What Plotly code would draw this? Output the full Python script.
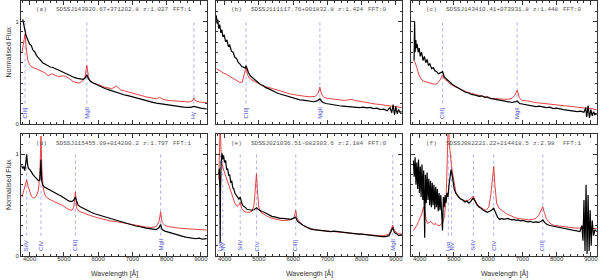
import plotly.graph_objects as go

# ---------------- metadata ----------------
panel_tags = ["(a)", "(b)", "(c)", "(d)", "(e)", "(f)"]
object_names = ["SDSSJ143920.67+371202.8", "SDSSJ111117.76+001832.8", "SDSSJ143410.41+073931.8",
                "SDSSJ115455.09+014200.2", "SDSSJ021036.51-082303.6", "SDSSJ082221.22+214418.5"]
redshifts = ["1.027", "1.424", "1.448", "1.797", "2.184", "2.98"]
fft_flags = ["1", "0", "0", "1", "0", "1"]

line_rest = {"Lyα": 1216, "NV": 1240, "SiIV": 1400, "CIV": 1549, "CIII]": 1909, "MgII": 2798, "Hγ": 4340}
panel_lines = [["CIII]", "MgII", "Hγ"], ["CIII]", "MgII"], ["CIII]", "MgII"],
               ["SiIV", "CIV", "CIII]", "MgII"], ["Lyα", "NV", "SiIV", "CIV", "CIII]", "MgII"],
               ["Lyα", "NV", "SiIV", "CIV", "CIII]"]]

# ---------------- panel (a) ----------------
a_obs_wl = [3800, 3830, 3860, 3900, 3950, 4000, 4050, 4100, 4150, 4200, 4260, 4320, 4390, 4450, 4520, 4600, 4680,
            4760, 4840, 4920, 5000, 5080, 5160, 5240, 5320, 5400, 5480, 5560, 5620, 5672, 5720, 5780, 5860, 5940,
            6020, 6100, 6200, 6300, 6400, 6500, 6600, 6700, 6800, 6900, 7000, 7100, 7200, 7300, 7400, 7500, 7600,
            7700, 7800, 7900, 8000, 8100, 8200, 8300, 8400, 8500, 8600, 8700, 8800, 8900, 9000, 9100, 9170]
a_obs_fl = [1.02, 0.97, 0.92, 0.86, 0.82, 0.78, 0.765, 0.72, 0.705, 0.67, 0.645, 0.62, 0.595, 0.585, 0.572, 0.556,
            0.551, 0.536, 0.527, 0.515, 0.502, 0.491, 0.476, 0.466, 0.452, 0.446, 0.44, 0.436, 0.446, 0.48, 0.44,
            0.416, 0.40, 0.386, 0.376, 0.36, 0.346, 0.336, 0.325, 0.311, 0.301, 0.29, 0.281, 0.275, 0.265, 0.255,
            0.246, 0.235, 0.226, 0.218, 0.211, 0.203, 0.198, 0.19, 0.186, 0.18, 0.176, 0.172, 0.168, 0.165, 0.163,
            0.162, 0.172, 0.16, 0.155, 0.15, 0.148]
a_tpl_wl = [3780, 3830, 3869, 3900, 3950, 4000, 4050, 4150, 4250, 4350, 4450, 4550, 4650, 4750, 4850, 4950, 5050,
            5150, 5250, 5350, 5450, 5550, 5620, 5672, 5720, 5780, 5880, 5980, 6080, 6180, 6300, 6400, 6540, 6650,
            6800, 6950, 7100, 7250, 7400, 7550, 7700, 7800, 7900, 8050, 8200, 8350, 8500, 8650, 8750, 8800, 8850,
            8950, 9100, 9170]
a_tpl_fl = [0.70, 0.80, 0.88, 0.75, 0.62, 0.58, 0.56, 0.545, 0.53, 0.515, 0.50, 0.47, 0.49, 0.475, 0.46, 0.47,
            0.465, 0.445, 0.42, 0.405, 0.40, 0.42, 0.46, 0.57, 0.46, 0.41, 0.40, 0.39, 0.375, 0.36, 0.35, 0.345,
            0.37, 0.335, 0.32, 0.305, 0.29, 0.275, 0.265, 0.255, 0.245, 0.26, 0.24, 0.23, 0.225, 0.22, 0.218,
            0.215, 0.225, 0.255, 0.225, 0.215, 0.21, 0.21]

# ---------------- panel (b) ----------------
b_obs_wl = [3760, 3780, 3800, 3830, 3860, 3890, 3920, 3950, 3990, 4030, 4070, 4110, 4150, 4200, 4250, 4300, 4350,
            4400, 4450, 4500, 4550, 4600, 4627, 4660, 4700, 4750, 4800, 4860, 4920, 4980, 5050, 5120, 5200, 5280,
            5360, 5440, 5520, 5600, 5700, 5800, 5900, 6000, 6100, 6200, 6300, 6400, 6500, 6600, 6700, 6783, 6850,
            6950, 7050, 7150, 7250, 7350, 7450, 7550, 7650, 7750, 7850, 7950, 8050, 8150, 8250, 8350, 8450, 8550,
            8650, 8750, 8830, 8880, 8920, 8960, 9000, 9040, 9080, 9120, 9170]
b_obs_fl = [1.06, 0.98, 1.02, 0.93, 0.97, 0.89, 0.92, 0.85, 0.87, 0.80, 0.82, 0.76, 0.77, 0.71, 0.70, 0.65, 0.64,
            0.60, 0.585, 0.56, 0.555, 0.545, 0.57, 0.53, 0.50, 0.47, 0.455, 0.44, 0.415, 0.405, 0.385, 0.375, 0.355,
            0.345, 0.33, 0.315, 0.305, 0.295, 0.285, 0.27, 0.26, 0.255, 0.245, 0.235, 0.232, 0.225, 0.22, 0.217,
            0.225, 0.245, 0.215, 0.20, 0.195, 0.188, 0.182, 0.178, 0.175, 0.172, 0.168, 0.165, 0.168, 0.16, 0.165,
            0.158, 0.162, 0.15, 0.155, 0.14, 0.145, 0.13, 0.16, 0.11, 0.19, 0.09, 0.17, 0.10, 0.14, 0.115, 0.12]
b_tpl_wl = [3770, 3850, 3950, 4050, 4150, 4250, 4350, 4450, 4520, 4580, 4627, 4670, 4720, 4800, 4900, 5000, 5100,
            5200, 5300, 5400, 5500, 5600, 5750, 5900, 6050, 6200, 6350, 6500, 6650, 6730, 6783, 6830, 6900, 7000,
            7100, 7200, 7300, 7400, 7500, 7600, 7700, 7800, 7950, 8100, 8250, 8400, 8550, 8700, 8850, 9000, 9170]
b_tpl_fl = [0.54, 0.52, 0.50, 0.485, 0.465, 0.45, 0.43, 0.405, 0.41, 0.48, 0.56, 0.48, 0.45, 0.43, 0.41, 0.39,
            0.375, 0.365, 0.355, 0.34, 0.33, 0.32, 0.31, 0.295, 0.285, 0.275, 0.27, 0.265, 0.27, 0.30, 0.36, 0.29,
            0.26, 0.25, 0.245, 0.24, 0.235, 0.23, 0.23, 0.235, 0.24, 0.23, 0.22, 0.21, 0.205, 0.195, 0.19, 0.18,
            0.175, 0.17, 0.16]

# ---------------- panel (c) ----------------
c_obs_wl = [3840, 3855, 3870, 3890, 3910, 3930, 3960, 3990, 4020, 4060, 4100, 4140, 4180, 4220, 4260, 4300, 4350,
            4400, 4450, 4500, 4550, 4620, 4673, 4720, 4780, 4840, 4900, 4960, 5030, 5100, 5180, 5260, 5340, 5420,
            5500, 5580, 5660, 5740, 5820, 5900, 5980, 6060, 6140, 6220, 6300, 6400, 6500, 6600, 6700, 6780, 6850,
            6920, 7000, 7100, 7200, 7300, 7400, 7500, 7600, 7700, 7800, 7900, 8000, 8100, 8200, 8300, 8400, 8500,
            8600, 8700, 8800, 8850, 8880, 8920, 8960, 9000, 9040, 9080, 9120, 9170]
c_obs_fl = [0.62, 1.0, 0.70, 0.82, 0.74, 0.78, 0.70, 0.74, 0.66, 0.70, 0.62, 0.66, 0.60, 0.63, 0.57, 0.59, 0.54,
            0.55, 0.52, 0.51, 0.49, 0.50, 0.51, 0.46, 0.44, 0.42, 0.40, 0.385, 0.37, 0.355, 0.34, 0.325, 0.31,
            0.305, 0.29, 0.285, 0.275, 0.27, 0.275, 0.26, 0.265, 0.25, 0.245, 0.24, 0.235, 0.225, 0.22, 0.215,
            0.21, 0.215, 0.225, 0.20, 0.195, 0.19, 0.18, 0.175, 0.17, 0.175, 0.165, 0.16, 0.165, 0.15, 0.155, 0.145,
            0.14, 0.135, 0.13, 0.125, 0.12, 0.125, 0.115, 0.16, 0.07, 0.18, 0.06, 0.14, 0.08, 0.12, 0.09, 0.10]
c_tpl_wl = [3840, 3870, 3920, 3980, 4040, 4100, 4200, 4300, 4400, 4500, 4600, 4673, 4720, 4800, 4900, 5000, 5100,
            5200, 5300, 5400, 5500, 5650, 5800, 5950, 6100, 6250, 6400, 6550, 6700, 6780, 6850, 6910, 6980, 7050,
            7150, 7250, 7350, 7500, 7650, 7800, 7950, 8100, 8250, 8400, 8550, 8700, 8850, 9000, 9170]
c_tpl_fl = [0.62, 0.60, 0.55, 0.48, 0.44, 0.42, 0.41, 0.40, 0.39, 0.39, 0.43, 0.48, 0.44, 0.42, 0.39, 0.37, 0.355,
            0.34, 0.32, 0.31, 0.30, 0.285, 0.27, 0.26, 0.25, 0.245, 0.24, 0.24, 0.25, 0.28, 0.33, 0.26, 0.23,
            0.225, 0.225, 0.22, 0.21, 0.205, 0.20, 0.195, 0.19, 0.185, 0.18, 0.175, 0.17, 0.165, 0.16, 0.15, 0.14]

# ---------------- panel (d) ----------------
d_obs_wl = [3770, 3800, 3830, 3860, 3890, 3916, 3940, 3970, 4010, 4050, 4100, 4150, 4210, 4260, 4300, 4320, 4333,
            4350, 4380, 4420, 4470, 4520, 4570, 4620, 4680, 4740, 4800, 4860, 4920, 4980, 5040, 5100, 5160, 5220,
            5280, 5320, 5339, 5370, 5420, 5480, 5560, 5640, 5720, 5800, 5900, 6000, 6100, 6200, 6300, 6400, 6500,
            6600, 6700, 6800, 6900, 7000, 7100, 7200, 7300, 7400, 7500, 7600, 7700, 7780, 7826, 7870, 7950, 8050,
            8150, 8250, 8350, 8450, 8550, 8650, 8750, 8850, 8950, 9050, 9170]
d_obs_fl = [0.89, 0.86, 0.88, 0.84, 0.92, 1.00, 0.90, 0.86, 0.85, 0.82, 0.80, 0.78, 0.76, 0.74, 0.75, 0.90, 0.95,
            0.75, 0.70, 0.68, 0.67, 0.66, 0.65, 0.645, 0.63, 0.62, 0.61, 0.60, 0.59, 0.575, 0.56, 0.55, 0.54, 0.535,
            0.545, 0.57, 0.58, 0.54, 0.50, 0.485, 0.47, 0.455, 0.44, 0.43, 0.415, 0.405, 0.395, 0.38, 0.37, 0.36,
            0.355, 0.345, 0.335, 0.325, 0.315, 0.305, 0.295, 0.29, 0.28, 0.275, 0.27, 0.265, 0.26, 0.28, 0.31,
            0.26, 0.245, 0.235, 0.225, 0.21, 0.20, 0.19, 0.185, 0.18, 0.175, 0.17, 0.175, 0.165, 0.17]
d_tpl_wl = [3780, 3820, 3870, 3916, 3960, 4010, 4060, 4110, 4160, 4210, 4260, 4300, 4333, 4360, 4400, 4450, 4500,
            4600, 4700, 4800, 4900, 5000, 5080, 5160, 5240, 5290, 5339, 5380, 5450, 5550, 5650, 5760, 5900, 6050,
            6200, 6350, 6500, 6650, 6800, 6950, 7100, 7250, 7400, 7550, 7700, 7780, 7826, 7870, 7950, 8050, 8200,
            8350, 8500, 8650, 8800, 8950, 9170]
d_tpl_fl = [0.58, 0.63, 0.70, 0.75, 0.68, 0.62, 0.585, 0.57, 0.575, 0.60, 0.65, 0.80, 1.18, 0.85, 0.66, 0.60,
            0.575, 0.555, 0.54, 0.52, 0.505, 0.49, 0.47, 0.455, 0.45, 0.48, 0.63, 0.47, 0.44, 0.425, 0.41, 0.40,
            0.385, 0.37, 0.355, 0.345, 0.34, 0.33, 0.32, 0.31, 0.30, 0.29, 0.285, 0.28, 0.29, 0.34, 0.435, 0.33,
            0.30, 0.29, 0.28, 0.275, 0.27, 0.265, 0.26, 0.26, 0.255]

# ---------------- panel (e) ----------------
e_obs_wl = [3830, 3850, 3865, 3872, 3880, 3900, 3925, 3945, 3970, 4000, 4030, 4060, 4090, 4120, 4150, 4180, 4210,
            4240, 4270, 4300, 4340, 4380, 4420, 4458, 4500, 4550, 4600, 4650, 4700, 4750, 4800, 4860, 4932, 4980,
            5040, 5100, 5160, 5220, 5300, 5380, 5460, 5540, 5620, 5700, 5780, 5860, 5940, 6000, 6078, 6130, 6200,
            6280, 6360, 6440, 6520, 6600, 6700, 6800, 6900, 7000, 7100, 7200, 7300, 7400, 7500, 7600, 7700, 7800,
            7900, 8000, 8100, 8200, 8300, 8400, 8500, 8600, 8700, 8800, 8860, 8909, 8960, 9020, 9080, 9170]
e_obs_fl = [0.80, 0.86, 0.60, 0.13, 0.60, 0.92, 1.01, 0.95, 0.99, 0.92, 0.94, 0.85, 0.86, 0.79, 0.80, 0.72, 0.74,
            0.67, 0.66, 0.62, 0.60, 0.57, 0.56, 0.58, 0.52, 0.49, 0.48, 0.46, 0.455, 0.45, 0.45, 0.455, 0.475, 0.46,
            0.445, 0.435, 0.43, 0.42, 0.405, 0.39, 0.385, 0.375, 0.37, 0.37, 0.365, 0.365, 0.36, 0.37, 0.38, 0.34,
            0.32, 0.305, 0.29, 0.275, 0.265, 0.26, 0.255, 0.25, 0.245, 0.24, 0.24, 0.245, 0.24, 0.235, 0.23, 0.23,
            0.225, 0.22, 0.215, 0.215, 0.21, 0.21, 0.205, 0.20, 0.195, 0.19, 0.19, 0.20, 0.24, 0.28, 0.23, 0.22,
            0.20, 0.21]
e_tpl_wl = [3830, 3850, 3872, 3895, 3920, 3960, 4000, 4060, 4120, 4180, 4240, 4300, 4360, 4410, 4458, 4500, 4560,
            4640, 4720, 4800, 4860, 4900, 4932, 4965, 5000, 5060, 5150, 5250, 5350, 5450, 5550, 5650, 5750, 5850,
            5950, 6030, 6078, 6120, 6200, 6300, 6400, 6500, 6600, 6700, 6850, 7000, 7150, 7300, 7450, 7600, 7750,
            7900, 8050, 8200, 8350, 8500, 8650, 8800, 8860, 8909, 8960, 9050, 9170]
e_tpl_fl = [0.75, 0.95, 1.30, 1.05, 0.92, 0.86, 0.82, 0.75, 0.68, 0.62, 0.57, 0.52, 0.49, 0.50, 0.53, 0.47, 0.44,
            0.43, 0.43, 0.44, 0.50, 0.65, 0.81, 0.62, 0.48, 0.43, 0.41, 0.39, 0.375, 0.365, 0.355, 0.35, 0.35,
            0.35, 0.36, 0.38, 0.45, 0.37, 0.33, 0.30, 0.28, 0.27, 0.26, 0.255, 0.25, 0.245, 0.245, 0.24, 0.235,
            0.23, 0.225, 0.22, 0.215, 0.21, 0.205, 0.20, 0.20, 0.215, 0.26, 0.305, 0.25, 0.22, 0.215]

# ---------------- panel (f) ----------------
f_obs_wl = [3820, 3845, 3870, 3895, 3920, 3945, 3970, 3995, 4020, 4045, 4070, 4095, 4120, 4150, 4170, 4195, 4220,
            4245, 4270, 4295, 4320, 4345, 4370, 4395, 4420, 4445, 4470, 4495, 4520, 4545, 4570, 4595, 4620, 4645,
            4670, 4695, 4720, 4745, 4770, 4800, 4830, 4860, 4890, 4920, 4950, 4980, 5010, 5050, 5100, 5150, 5200,
            5260, 5320, 5380, 5440, 5500, 5560, 5620, 5680, 5740, 5800, 5860, 5920, 5980, 6040, 6100, 6165, 6220,
            6280, 6340, 6400, 6460, 6520, 6580, 6640, 6700, 6760, 6820, 6880, 6940, 7000, 7080, 7160, 7240, 7320,
            7400, 7480, 7560, 7600, 7650, 7720, 7800, 7880, 7960, 8040, 8120, 8200, 8280, 8360, 8440, 8520, 8600,
            8680, 8740, 8770, 8800, 8830, 8860, 8890, 8920, 8950, 8980, 9010, 9040, 9080, 9120, 9170]
f_obs_fl = [0.94, 0.78, 0.97, 0.70, 0.92, 0.66, 0.95, 0.62, 0.88, 0.58, 0.90, 0.55, 0.84, 0.18, 0.80, 0.52, 0.82,
            0.55, 0.76, 0.50, 0.74, 0.48, 0.72, 0.50, 0.70, 0.46, 0.68, 0.48, 0.66, 0.44, 0.62, 0.45, 0.60, 0.44,
            0.25, 0.58, 0.48, 0.60, 0.52, 0.62, 0.58, 0.70, 0.78, 0.85, 0.80, 0.70, 0.66, 0.62, 0.60, 0.58, 0.56,
            0.55, 0.53, 0.54, 0.52, 0.54, 0.57, 0.54, 0.50, 0.48, 0.47, 0.45, 0.44, 0.43, 0.44, 0.45, 0.47, 0.42,
            0.38, 0.36, 0.37, 0.36, 0.365, 0.37, 0.36, 0.355, 0.36, 0.35, 0.355, 0.345, 0.35, 0.34, 0.335, 0.34,
            0.33, 0.335, 0.33, 0.345, 0.355, 0.33, 0.31, 0.30, 0.295, 0.29, 0.285, 0.28, 0.275, 0.27, 0.265, 0.26,
            0.255, 0.25, 0.24, 0.30, 0.15, 0.55, 0.05, 0.70, 0.02, 0.60, 0.05, 0.45, 0.10, 0.35, 0.20, 0.26, 0.24]
f_tpl_wl = [3820, 3870, 3920, 3970, 4020, 4070, 4115, 4150, 4190, 4230, 4280, 4330, 4380, 4430, 4480, 4530, 4580,
            4630, 4680, 4730, 4780, 4820, 4840, 4870, 4900, 4935, 4970, 5010, 5060, 5120, 5200, 5280, 5360, 5440,
            5520, 5572, 5620, 5700, 5780, 5860, 5940, 6020, 6080, 6130, 6165, 6200, 6250, 6320, 6400, 6480, 6560,
            6640, 6720, 6800, 6880, 6960, 7040, 7120, 7200, 7300, 7400, 7480, 7560, 7598, 7640, 7700, 7780, 7860,
            7950, 8050, 8150, 8250, 8350, 8450, 8550, 8650, 8750, 8850, 8950, 9050, 9170]
f_tpl_fl = [0.25, 0.27, 0.30, 0.34, 0.38, 0.42, 0.48, 0.45, 0.36, 0.32, 0.33, 0.34, 0.32, 0.31, 0.32, 0.30, 0.30,
            0.31, 0.33, 0.40, 0.60, 1.0, 1.35, 1.10, 0.95, 0.88, 0.80, 0.70, 0.63, 0.58, 0.56, 0.55, 0.54, 0.55,
            0.57, 0.59, 0.55, 0.50, 0.48, 0.46, 0.45, 0.48, 0.60, 0.80, 0.88, 0.70, 0.52, 0.47, 0.45, 0.43, 0.41,
            0.40, 0.385, 0.375, 0.37, 0.365, 0.36, 0.355, 0.355, 0.36, 0.37, 0.40, 0.46, 0.485, 0.43, 0.37, 0.33,
            0.31, 0.30, 0.295, 0.29, 0.285, 0.28, 0.28, 0.275, 0.275, 0.275, 0.275, 0.275, 0.27, 0.27]

obs_wl = [a_obs_wl, b_obs_wl, c_obs_wl, d_obs_wl, e_obs_wl, f_obs_wl]
obs_fl = [a_obs_fl, b_obs_fl, c_obs_fl, d_obs_fl, e_obs_fl, f_obs_fl]
tpl_wl = [a_tpl_wl, b_tpl_wl, c_tpl_wl, d_tpl_wl, e_tpl_wl, f_tpl_wl]
tpl_fl = [a_tpl_fl, b_tpl_fl, c_tpl_fl, d_tpl_fl, e_tpl_fl, f_tpl_fl]

# ---------------- layout geometry (pixels) ----------------
W, H = 600, 280
col_px = [(21, 207), (216, 402), (411, 597)]
row_px = [(1, 124), (134, 256)]
x_range = [3750, 9180]
y_range = [0, 1.2]

fig = go.Figure()
layout = dict(width=W, height=H, margin=dict(l=0, r=0, t=0, b=0), paper_bgcolor="white",
              plot_bgcolor="white", showlegend=False)
annotations = []
shapes = []
tick_font = dict(family="Liberation Sans, Arial, sans-serif", size=6, color="#333")

for i in range(6):
    r, c = divmod(i, 3)
    sfx = "" if i == 0 else str(i + 1)
    xa, ya = "x" + sfx, "y" + sfx
    x0, x1 = col_px[c]
    y0, y1 = row_px[r]
    layout["xaxis" + sfx] = dict(
        domain=[x0 / W, x1 / W], range=x_range, anchor=ya, tickmode="linear", tick0=0, dtick=1000,
        ticks="inside", ticklen=4, tickcolor="#333", showline=True, linecolor="#333", linewidth=1,
        mirror="ticks", showgrid=False, zeroline=False, showticklabels=(r == 1), tickfont=tick_font,
        ticklabelstandoff=-3,
        minor=dict(tick0=0, dtick=200, ticks="inside", ticklen=2, tickcolor="#333", showgrid=False),
        automargin=False)
    layout["yaxis" + sfx] = dict(
        domain=[1 - y1 / H, 1 - y0 / H], range=y_range, anchor=xa, tickmode="linear", tick0=0, dtick=1,
        ticks="inside", ticklen=4, tickcolor="#333", showline=True, linecolor="#333", linewidth=1,
        mirror="ticks", showgrid=False, zeroline=False, showticklabels=(c == 0), tickfont=tick_font,
        minor=dict(tick0=0, dtick=0.1, ticks="inside", ticklen=2, tickcolor="#333", showgrid=False),
        automargin=False)

    fig.add_trace(go.Scatter(x=tpl_wl[i], y=tpl_fl[i], mode="lines", xaxis=xa, yaxis=ya,
                             line=dict(color="#e0302f", width=0.9), hoverinfo="skip"))
    fig.add_trace(go.Scatter(x=obs_wl[i], y=obs_fl[i], mode="lines", xaxis=xa, yaxis=ya,
                             line=dict(color="black", width=1.2), hoverinfo="skip"))

    zval = float(redshifts[i])
    for name in panel_lines[i]:
        lam = line_rest[name] * (1 + zval)
        shapes.append(dict(type="line", xref=xa, yref=ya, x0=lam, x1=lam, y0=0.2, y1=1.0,
                           line=dict(color="#9a9ae6", width=0.8, dash="dot"), layer="below"))
        annotations.append(dict(xref=xa, yref=ya, x=lam, y=0.03, text=name, textangle=-90,
                                showarrow=False, xanchor="center", yanchor="bottom",
                                font=dict(family="Liberation Sans, Arial, sans-serif", size=6, color="#4a4ad0")))

    # panel title pieces
    title_font = dict(family="Liberation Mono, DejaVu Sans Mono, monospace", size=6, color="#555")
    dom = (xa + " domain", ya + " domain")
    for txt, off in [(panel_tags[i], 13), (object_names[i], 33), ("z:" + redshifts[i], 120), ("FFT:" + fft_flags[i], 150)]:
        annotations.append(dict(xref=dom[0], yref=dom[1], x=off / (x1 - x0), y=1 - 9 / (y1 - y0), text=txt,
                                showarrow=False, xanchor="left", yanchor="middle", font=title_font))

    if r == 1:
        annotations.append(dict(xref="paper", yref="paper", x=((x0 + x1) / 2) / W, y=1 - 273 / H,
                                text="Wavelength [Å]", showarrow=False, xanchor="center", yanchor="middle",
                                font=dict(family="Liberation Sans, Arial, sans-serif", size=7, color="#333")))
    if c == 0:
        annotations.append(dict(xref="paper", yref="paper", x=8 / W, y=1 - ((y0 + y1) / 2 - 10) / H,
                                text="Normalised Flux", showarrow=False, textangle=-90,
                                xanchor="center", yanchor="middle",
                                font=dict(family="Liberation Sans, Arial, sans-serif", size=7, color="#333")))

layout["annotations"] = annotations
layout["shapes"] = shapes
fig.update_layout(**layout)
fig.write_html("out.html", config={"displayModeBar": False, "staticPlot": True},
               post_script="document.body.style.margin='0px';document.body.style.overflow='hidden';")
